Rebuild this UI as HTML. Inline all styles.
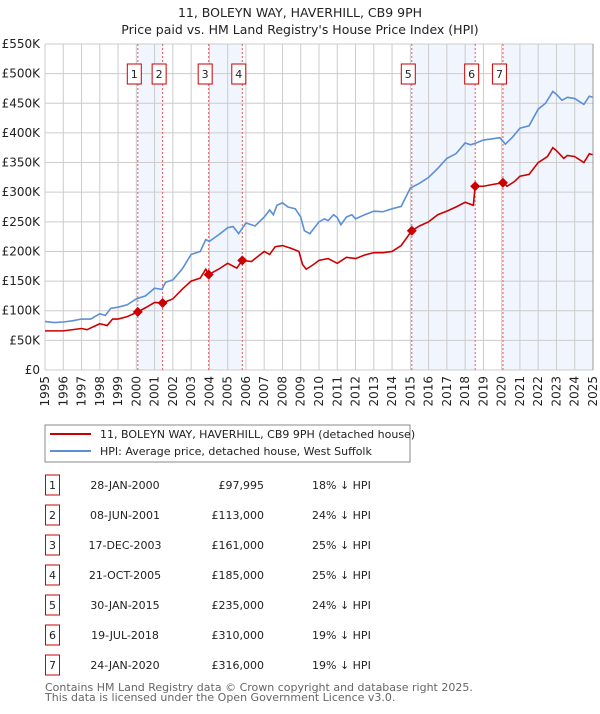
<!DOCTYPE html>
<html><head><meta charset="utf-8"><style>
body{margin:0;background:#fff;font-family:"DejaVu Sans","Liberation Sans",sans-serif;}
svg text{font-family:"DejaVu Sans","Liberation Sans",sans-serif;}
</style></head><body>
<svg id="c" width="600" height="710" xmlns="http://www.w3.org/2000/svg">
<text x="300" y="17" text-anchor="middle" font-size="12.5" fill="#222">11, BOLEYN WAY, HAVERHILL, CB9 9PH</text>
<text x="300" y="34" text-anchor="middle" font-size="12.5" fill="#222">Price paid vs. HM Land Registry's House Price Index (HPI)</text>
<g id="plot"></g>
<rect x="45" y="425" width="365" height="37" fill="#fff" stroke="#888"/>
<line x1="50" y1="434" x2="91" y2="434" stroke="#cc0000" stroke-width="2"/>
<text x="100" y="438" font-size="11" fill="#222">11, BOLEYN WAY, HAVERHILL, CB9 9PH (detached house)</text>
<line x1="50" y1="451" x2="91" y2="451" stroke="#5b8fd6" stroke-width="2"/>
<text x="100" y="455" font-size="11" fill="#222">HPI: Average price, detached house, West Suffolk</text>
<g id="table"></g>
<text x="45" y="691" font-size="11" fill="#666">Contains HM Land Registry data © Crown copyright and database right 2025.</text>
<text x="45" y="701" font-size="11" fill="#666">This data is licensed under the Open Government Licence v3.0.</text>
</svg>
<script>
const hpiYears=[1995,1995.5,1996,1996.5,1997,1997.5,1998,1998.3,1998.6,1999,1999.5,2000,2000.5,2001,2001.4,2001.6,2002,2002.5,2003,2003.5,2003.8,2004,2004.5,2005,2005.3,2005.6,2006,2006.5,2007,2007.3,2007.5,2007.7,2008,2008.3,2008.7,2009,2009.2,2009.5,2010,2010.3,2010.5,2010.8,2011,2011.2,2011.5,2011.8,2012,2012.5,2013,2013.5,2014,2014.5,2015,2015.5,2016,2016.5,2017,2017.5,2018,2018.3,2018.6,2019,2019.5,2019.9,2020.2,2020.6,2021,2021.5,2022,2022.4,2022.8,2023,2023.3,2023.6,2024,2024.5,2024.8,2025];
const hpiValues=[82,80,81,83,86,86,95,92,104,106,110,120,125,138,136,148,152,170,195,200,220,217,228,240,242,230,248,243,258,270,262,278,282,275,272,258,235,230,250,255,252,262,257,245,258,262,255,262,268,267,272,276,307,315,325,340,357,365,383,380,383,388,390,392,381,393,408,412,440,450,470,465,455,460,458,448,462,460];
const propYears=[1995,1996,1997,1997.3,1998,1998.4,1998.7,1999,1999.5,2000.08,2000.5,2001,2001.44,2002,2002.5,2003,2003.5,2003.8,2003.96,2004.5,2005,2005.5,2005.8,2006.3,2007,2007.3,2007.6,2008,2008.5,2008.9,2009.1,2009.3,2009.7,2010,2010.5,2011,2011.5,2012,2012.5,2013,2013.5,2014,2014.5,2015.08,2015.5,2016,2016.5,2017,2017.5,2018,2018.45,2018.55,2019,2019.5,2020.07,2020.3,2020.7,2021,2021.5,2022,2022.5,2022.8,2023,2023.4,2023.6,2024,2024.5,2024.8,2025];
const propValues=[66,66,70,68,78,75,86,86,90,98,105,114,113,120,136,150,155,170,161,170,180,172,185,183,200,195,208,210,205,200,178,170,178,185,188,180,190,188,194,198,198,200,210,235,243,250,262,268,275,283,278,310,310,313,316,310,318,327,330,350,360,375,370,357,362,360,350,365,363];
const saleLabels=["1","2","3","4","5","6","7"];
const saleYears=[2000.08,2001.44,2003.96,2005.8,2015.08,2018.55,2020.07];
const saleValues=[97.995,113,161,185,235,310,316];
const saleDates=["28-JAN-2000","08-JUN-2001","17-DEC-2003","21-OCT-2005","30-JAN-2015","19-JUL-2018","24-JAN-2020"];
const salePrices=["£97,995","£113,000","£161,000","£185,000","£235,000","£310,000","£316,000"];
const saleDiffs=["18% ↓ HPI","24% ↓ HPI","25% ↓ HPI","25% ↓ HPI","24% ↓ HPI","19% ↓ HPI","19% ↓ HPI"];
const yTicks=[0,50,100,150,200,250,300,350,400,450,500,550];
const yTickLabels=["£0","£50K","£100K","£150K","£200K","£250K","£300K","£350K","£400K","£450K","£500K","£550K"];
const xTicks=[1995,1996,1997,1998,1999,2000,2001,2002,2003,2004,2005,2006,2007,2008,2009,2010,2011,2012,2013,2014,2015,2016,2017,2018,2019,2020,2021,2022,2023,2024,2025];

const X0=45,X1=593,Y0=370,Y1=44;
const x=v=>X0+(v-1995)/30*(X1-X0);
const y=v=>Y0-v/550*(Y0-Y1);
const NS="http://www.w3.org/2000/svg";
const plot=document.getElementById('plot');
function mk(tag,attrs,parent){const e=document.createElementNS(NS,tag);for(const k in attrs)e.setAttribute(k,attrs[k]);(parent||plot).appendChild(e);return e;}
const shades=[[0,1],[2,3],[4,5],[6,null]];
shades.forEach(s=>{const a=x(saleYears[s[0]]);const b=s[1]===null?X1:x(saleYears[s[1]]);
const r=mk('rect',{x:a,y:Y1,width:b-a,height:Y0-Y1,fill:'#eef3fc',opacity:0.8});

});
xTicks.forEach(t=>{const l=mk('line',{x1:x(t),x2:x(t),y1:Y1,y2:Y0,stroke:'#ccc','stroke-width':1});


const tx=mk('text',{x:0,y:0,'font-size':12,fill:'#222','text-anchor':'end',transform:`translate(${x(t)+4},${Y0+6}) rotate(-90)`});tx.textContent=t;

});
yTicks.forEach((t,i)=>{const l=mk('line',{x1:X0,x2:X1,y1:y(t),y2:y(t),stroke:'#ccc','stroke-width':1});


const tx=mk('text',{x:X0-5,y:y(t)+4,'font-size':12,fill:'#222','text-anchor':'end'});tx.textContent=yTickLabels[i];

});
saleYears.forEach(s=>{const l=mk('line',{x1:x(s),x2:x(s),y1:Y1,y2:Y0,stroke:'#e55','stroke-width':1,'stroke-dasharray':'2,2'});

});
const hp=mk('polyline',{points:hpiYears.map((v,i)=>x(v)+','+y(hpiValues[i])).join(' '),fill:'none',stroke:'#5b8fd6','stroke-width':1.6});


const pp=mk('polyline',{points:propYears.map((v,i)=>x(v)+','+y(propValues[i])).join(' '),fill:'none',stroke:'#cc0000','stroke-width':1.6});


saleYears.forEach((s,i)=>{const cx=x(s),cy=y(saleValues[i]);
const d=mk('path',{d:`M${cx},${cy-5}L${cx+5},${cy}L${cx},${cy+5}L${cx-5},${cy}Z`,fill:'#cc0000'});


const g=mk('g',{});


mk('rect',{x:cx-10.5,y:64,width:14,height:20,fill:'#fff',stroke:'#cc0000'},g);
const t=mk('text',{x:cx-3.5,y:78,'font-size':11,'text-anchor':'middle',fill:'#222'},g);t.textContent=saleLabels[i];});
mk('line',{x1:X1,x2:X1,y1:Y1,y2:Y0,stroke:'#999'});
const tb=document.getElementById('table');
saleLabels.forEach((lab,i)=>{const cy=483+30*i;
const g=mk('g',{},tb);


mk('rect',{x:45.5,y:cy-8,width:14,height:20,fill:'#fff',stroke:'#cc0000'},g);
let t=mk('text',{x:52.5,y:cy+6,'font-size':11,'text-anchor':'middle',fill:'#222'},g);t.textContent=lab;
t=mk('text',{x:125,y:cy+6,'font-size':11,'text-anchor':'middle',fill:'#222'},g);t.textContent=saleDates[i];
t=mk('text',{x:264,y:cy+6,'font-size':11,'text-anchor':'end',fill:'#222'},g);t.textContent=salePrices[i];
t=mk('text',{x:312,y:cy+6,'font-size':11,fill:'#222'},g);t.textContent=saleDiffs[i];});
</script>
</body></html>
